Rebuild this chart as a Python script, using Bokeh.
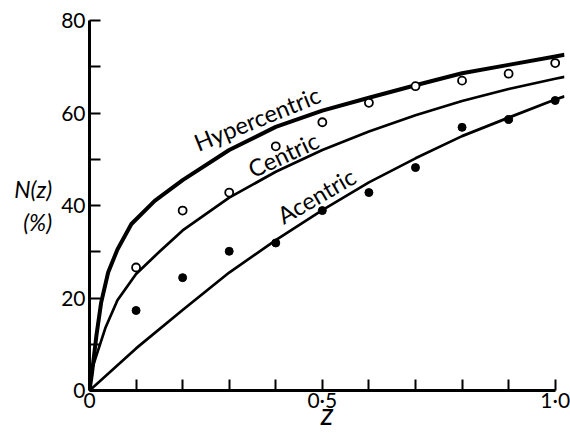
from bokeh.plotting import figure
from bokeh.models import Range1d, FixedTicker, Label
from bokeh.embed import file_html
from bokeh.resources import INLINE
import math

FONT = "Lato"

# Theoretical curves
z_hyper = [0, 0.005, 0.015, 0.025, 0.04, 0.06, 0.09, 0.14, 0.2, 0.3, 0.4, 0.5, 0.6, 0.7, 0.8, 0.9, 1.0, 1.02]
n_hyper = [0, 3.5, 12, 19, 25.5, 30.5, 36, 41, 45.5, 52, 57, 60.5, 63.3, 66, 68.6, 70.4, 72.2, 72.6]

z_centric = [0, 0.005, 0.013, 0.034, 0.06, 0.1, 0.15, 0.2, 0.3, 0.4, 0.5, 0.6, 0.7, 0.8, 0.9, 1.0, 1.02]
n_centric = [0, 4.5, 7, 13.5, 19.5, 25.2, 30, 34.6, 41.7, 47.3, 52, 56, 59.5, 62.6, 65.2, 67.4, 67.8]

z_acentric = [0, 0.1, 0.2, 0.3, 0.4, 0.5, 0.6, 0.7, 0.8, 0.9, 1.0, 1.02]
n_acentric = [0, 9.1, 17.4, 25.5, 32.5, 39, 45, 50.2, 55, 59, 62.9, 63.6]

# Observed points
z_obs = [0.1, 0.2, 0.3, 0.4, 0.5, 0.6, 0.7, 0.8, 0.9, 1.0]
n_open = [26.6, 38.9, 42.8, 52.8, 58.0, 62.2, 65.8, 67.0, 68.5, 70.8]
n_filled = [17.3, 24.4, 30.1, 31.9, 38.9, 42.8, 48.2, 56.9, 58.6, 62.7]

x_major = [0, 0.5, 1.0]
x_minor = [0.1, 0.2, 0.3, 0.4, 0.6, 0.7, 0.8, 0.9]
y_major = [0, 20, 40, 60, 80]
y_minor = [10, 30, 50, 70]
x_labels = {0: "0", 0.5: "0·5", 1: "1·0"}

p = figure(width=570, height=435, output_backend="svg", toolbar_location=None,
           x_range=Range1d(0, 1.02), y_range=Range1d(0, 80),
           min_border_left=89, min_border_right=6, min_border_top=20, min_border_bottom=45)
p.outline_line_color = None
p.xgrid.visible = False
p.ygrid.visible = False
p.background_fill_color = "white"

for ax in (p.xaxis[0], p.yaxis[0]):
    ax.axis_line_width = 3
    ax.axis_line_color = "black"
    ax.major_tick_in = 11
    ax.major_tick_out = 0
    ax.minor_tick_in = 11
    ax.minor_tick_out = 0
    ax.major_tick_line_width = 2
    ax.minor_tick_line_width = 2
    ax.major_tick_line_color = "black"
    ax.minor_tick_line_color = "black"
    ax.major_label_text_font = FONT
    ax.major_label_text_font_size = "21px"
    ax.major_label_text_color = "black"
    ax.axis_label_text_font = FONT
    ax.axis_label_text_color = "black"

xa = p.xaxis[0]
xa.ticker = FixedTicker(ticks=x_major, minor_ticks=x_minor)
xa.bounds = (0, 1.0)
xa.major_label_overrides = x_labels
xa.major_label_standoff = -4
xa.axis_label = "z"
xa.axis_label_text_font_style = "italic"
xa.axis_label_text_font_size = "30px"
xa.axis_label_standoff = -20

ya = p.yaxis[0]
ya.ticker = FixedTicker(ticks=y_major, minor_ticks=y_minor)
ya.major_label_standoff = 4
ya.axis_label = "N(z)\n(%)"
ya.axis_label_orientation = "horizontal"
ya.axis_label_text_font_style = "italic"
ya.axis_label_text_font_size = "23px"
ya.axis_label_standoff = 6

p.line(z_hyper, n_hyper, line_width=4, line_color="black", line_join="round")
p.line(z_centric, n_centric, line_width=2.7, line_color="black", line_join="round")
p.line(z_acentric, n_acentric, line_width=2.7, line_color="black", line_join="round")

p.scatter(z_obs, n_open, size=8, marker="circle", fill_color="white", line_color="black", line_width=1.8)
p.scatter(z_obs, n_filled, size=8, marker="circle", fill_color="black", line_color="black")

curve_labels = [
    ("Hypercentric", 0.36, 58.8, 22),
    ("Centric", 0.416, 51.0, 25),
    ("Acentric", 0.487, 42.1, 30),
]
for txt, x, y, ang in curve_labels:
    p.add_layout(Label(x=x, y=y, text=txt, angle=math.radians(ang), text_align="center",
                       text_baseline="alphabetic", text_font=FONT, text_font_size="23.5px",
                       text_color="black"))

open("out.html", "w").write(file_html(p, INLINE))
